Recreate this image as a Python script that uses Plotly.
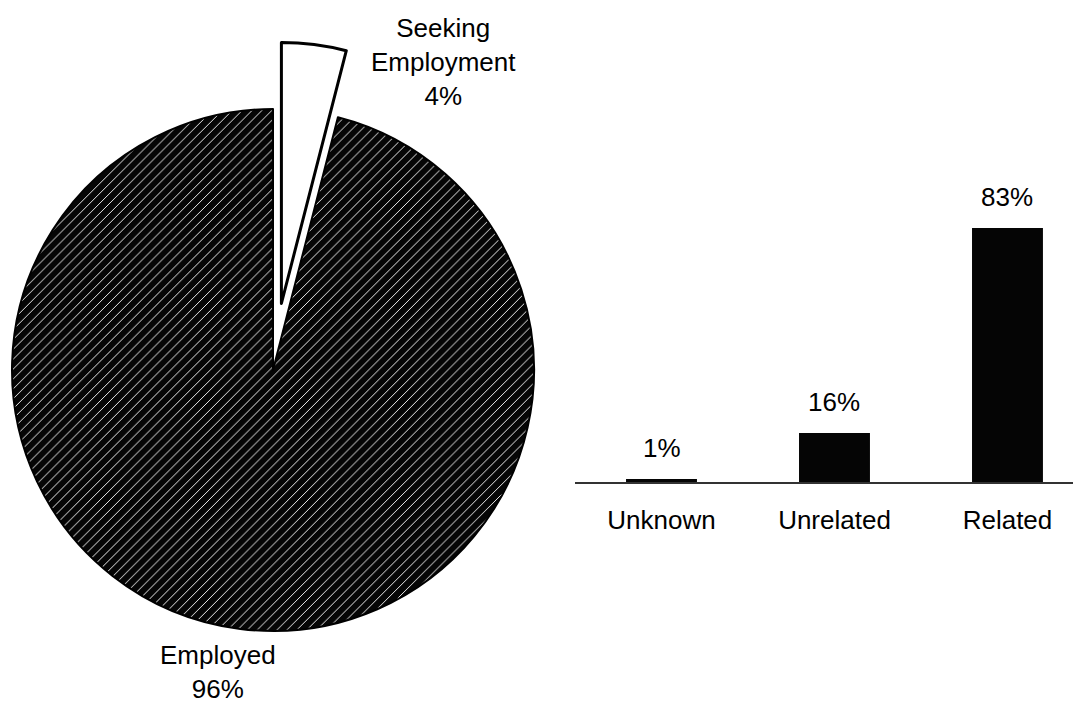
import plotly.graph_objects as go

# Pie data
pie_labels = ["Seeking Employment", "Employed"]
pie_values = [4, 96]
pie_texts = ["Seeking<br>Employment<br>4%", "Employed<br>96%"]

# Bar data
bar_categories = ["Unknown", "Unrelated", "Related"]
bar_values = [1, 16, 83]
bar_texts = ["1%", "16%", "83%"]

# page body has an 8px margin; figure is placed at (8, 8) in the window
OFF = 8
W, H = 1081 - OFF, 704 - OFF
FONT = "Liberation Sans, Arial, sans-serif"

def fx(px):
    return (px - OFF) / W

def fy(py):
    return 1 - (py - OFF) / H

fig = go.Figure()

# Main pie (Employed visible, Seeking hidden)
cx, cy, r = 273, 370, 261
fig.add_trace(go.Pie(
    labels=pie_labels, values=pie_values, sort=False, direction="clockwise", rotation=0,
    textinfo="none", hoverinfo="label+percent", showlegend=False,
    marker=dict(colors=["rgba(0,0,0,0)", "#050505"],
                line=dict(color=["rgba(0,0,0,0)", "#000000"], width=2),
                pattern=dict(shape=["", "/"], fgcolor="white", bgcolor="#050505",
                             size=7, solidity=0.13, fillmode="replace")),
    domain=dict(x=[fx(cx - r), fx(cx + r)], y=[fy(cy + r), fy(cy - r)]),
))

# Pulled-out slice (Seeking visible, Employed hidden)
px_, py_ = 281.4, 303.5
fig.add_trace(go.Pie(
    labels=pie_labels, values=pie_values, sort=False, direction="clockwise", rotation=0,
    textinfo="none", hoverinfo="label+percent", showlegend=False,
    marker=dict(colors=["white", "rgba(0,0,0,0)"],
                line=dict(color=["#000000", "rgba(0,0,0,0)"], width=3)),
    domain=dict(x=[fx(px_ - r), fx(px_ + r)], y=[fy(py_ + r), fy(py_ - r)]),
))

# Bars
fig.add_trace(go.Bar(
    x=bar_categories, y=bar_values, width=0.41,
    marker=dict(color="#050505", line=dict(width=0)),
    showlegend=False, xaxis="x", yaxis="y",
))

annotations = []
# Pie labels
annotations.append(dict(text=pie_texts[0], x=fx(443), y=fy(62), xref="paper", yref="paper",
                        showarrow=False, xanchor="center", yanchor="middle",
                        font=dict(size=26, color="black", family=FONT)))
annotations.append(dict(text=pie_texts[1], x=fx(218), y=fy(672), xref="paper", yref="paper",
                        showarrow=False, xanchor="center", yanchor="middle",
                        font=dict(size=26, color="black", family=FONT)))
# Bar value labels
for c, v, t in zip(bar_categories, bar_values, bar_texts):
    annotations.append(dict(text=t, x=c, y=v, xref="x", yref="y", showarrow=False,
                            xanchor="center", yanchor="bottom", yshift=14,
                            font=dict(size=26, color="black", family=FONT)))

fig.update_layout(
    width=W, height=H,
    margin=dict(l=0, r=0, t=0, b=0),
    paper_bgcolor="white", plot_bgcolor="white",
    font=dict(family=FONT, size=26, color="black"),
    xaxis=dict(domain=[fx(575), 1.0], range=[-0.5, 2.425], showgrid=False, zeroline=False,
               showline=True, linecolor="#333333", linewidth=1.5, ticks="",
               ticklabelstandoff=14, tickfont=dict(size=26, family=FONT, color="black"),
               fixedrange=True),
    yaxis=dict(domain=[fy(482), fy(176)], range=[0, 100], showgrid=False, zeroline=False,
               showline=False, showticklabels=False, ticks="", fixedrange=True),
    annotations=annotations,
)

fig.write_html("out.html")
